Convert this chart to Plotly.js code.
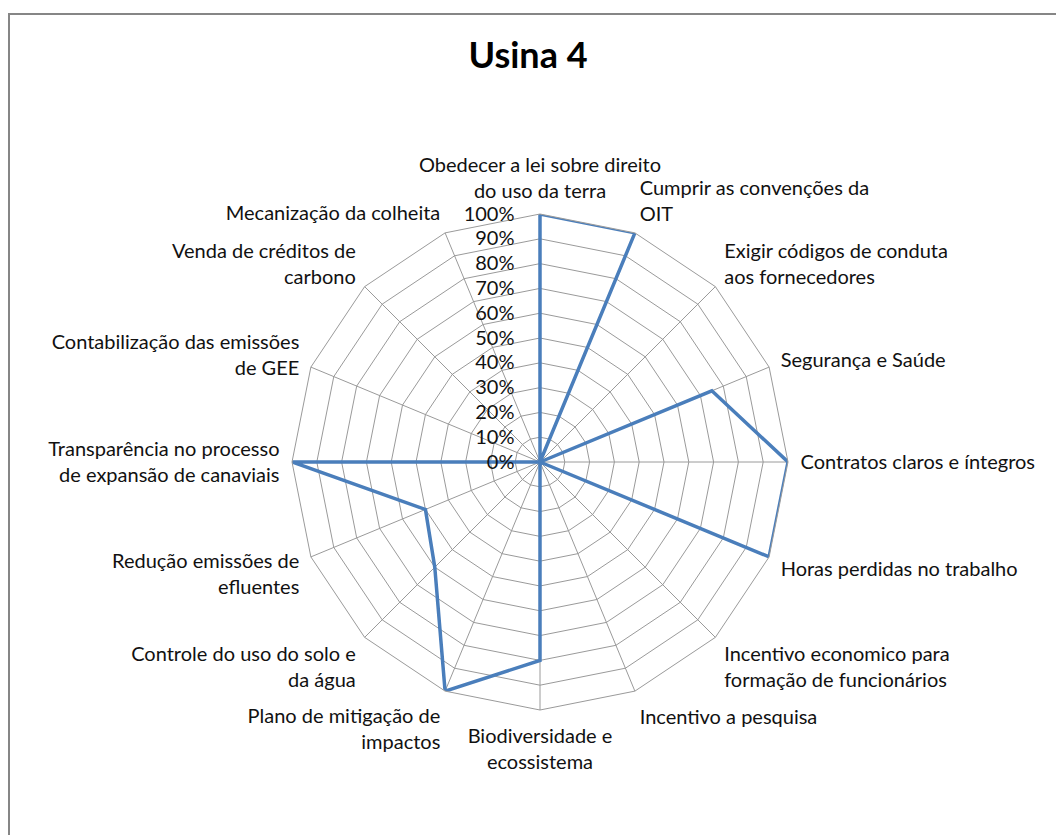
<!DOCTYPE html>
<html>
<head>
<meta charset="utf-8">
<script src="https://cdn.plot.ly/plotly-3.0.1.min.js"></script>
<style>
html,body{margin:0;padding:0;background:#fff;}
#chart{width:1056px;height:835px;}
</style>
</head>
<body>
<div id="chart"></div>
<script>
const categories = [
  "Obedecer a lei sobre direito<br>do uso da terra",
  "Cumprir as convenções da<br>OIT",
  "Exigir códigos de conduta<br>aos fornecedores",
  "Segurança e Saúde",
  "Contratos claros e íntegros",
  "Horas perdidas no trabalho",
  "Incentivo economico para<br>formação de funcionários",
  "Incentivo a pesquisa",
  "Biodiversidade e<br>ecossistema",
  "Plano de mitigação de<br>impactos",
  "Controle do uso do solo e<br>da água",
  "Redução emissões de<br>efluentes",
  "Transparência no processo<br>de expansão de canaviais",
  "Contabilização das emissões<br>de GEE",
  "Venda de créditos de<br>carbono",
  "Mecanização da colheita"
];
const usina4 = [1.00, 1.00, 0.00, 0.75, 1.00, 1.00, 0.00, 0.00, 0.80, 1.00, 0.60, 0.50, 1.00, 0.00, 0.00, 0.00];
const radialTicks = [0, 0.1, 0.2, 0.3, 0.4, 0.5, 0.6, 0.7, 0.8, 0.9, 1.0];
const radialTickText = ["0%","10%","20%","30%","40%","50%","60%","70%","80%","90%","100%"];

const W = 1056, H = 835;
const cx = 540, cy = 462, R = 248;

const trace = {
  type: 'scatterpolar',
  mode: 'lines',
  r: usina4.concat([usina4[0]]),
  theta: categories.concat([categories[0]]),
  line: {color: '#4A7EBB', width: 3.5},
  hoverinfo: 'skip',
  showlegend: false
};

const layout = {
  width: W, height: H,
  margin: {l: 0, r: 0, t: 0, b: 0},
  paper_bgcolor: '#ffffff',
  font: {family: 'Lato, "Open Sans", sans-serif', size: 20, color: '#111111'},
  title: {
    text: '<b>Usina 4</b>',
    font: {family: 'Lato, "Open Sans", sans-serif', size: 36, color: '#000'},
    x: 0.5, xanchor: 'center', y: 1 - 55/H, yanchor: 'middle'
  },
  polar: {
    domain: {x: [(cx - R)/W, (cx + R)/W], y: [(H - cy - R)/H, (H - cy + R)/H]},
    gridshape: 'linear',
    bgcolor: 'rgba(0,0,0,0)',
    angularaxis: {
      direction: 'clockwise',
      rotation: 90,
      showline: true,
      linecolor: '#9a9a9a',
      linewidth: 1,
      showgrid: true,
      gridcolor: '#9a9a9a',
      gridwidth: 1,
      ticks: 'outside',
      ticklen: 8,
      tickcolor: 'rgba(0,0,0,0)',
      tickfont: {size: 20, color: '#111111'}
    },
    radialaxis: {
      range: [0, 1],
      angle: 90,
      side: 'counterclockwise',
      tickangle: 90,
      tickvals: radialTicks,
      ticktext: radialTickText,
      showline: false,
      showgrid: true,
      gridcolor: '#9a9a9a',
      gridwidth: 1,
      ticks: 'outside',
      ticklen: 18,
      tickcolor: 'rgba(0,0,0,0)',
      tickfont: {size: 20, color: '#111111'}
    }
  },
  shapes: [{
    type: 'rect', xref: 'paper', yref: 'paper',
    x0: 9/W, x1: 1.05, y0: -0.05, y1: 1 - 14/H,
    line: {color: '#868686', width: 2},
    fillcolor: 'rgba(0,0,0,0)'
  }]
};

Plotly.newPlot('chart', [trace], layout, {displayModeBar: false, staticPlot: true});
</script>
</body>
</html>
